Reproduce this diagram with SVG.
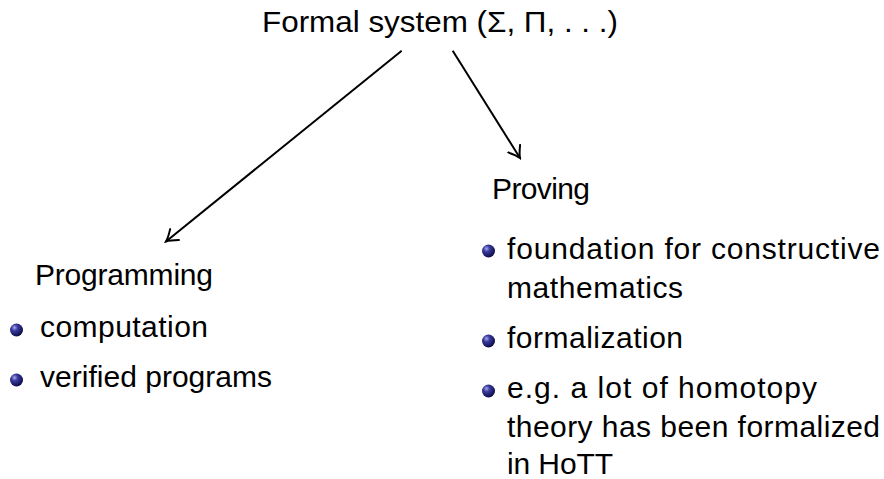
<svg xmlns="http://www.w3.org/2000/svg" width="884" height="479" viewBox="0 0 884 479">
<style>
text{font-family:"Liberation Sans",Arial,sans-serif;font-size:30px;fill:#000}
.ln{stroke:#000;stroke-width:2;fill:none}
</style>
<defs>
<radialGradient id="ball" cx="0.35" cy="0.32" r="0.7">
<stop offset="0" stop-color="#a9a9e6"/>
<stop offset="0.35" stop-color="#3a3aa0"/>
<stop offset="1" stop-color="#0c0c45"/>
</radialGradient>
<marker id="arr" markerUnits="userSpaceOnUse" viewBox="-12 -8 14 16" refX="0" refY="0" markerWidth="14" markerHeight="16" orient="auto">
<path d="M-11,-7 Q-4,-1.5 0,0 Q-4,1.5 -11,7" stroke="#000" stroke-width="2" fill="none" stroke-linecap="round"/>
</marker>
</defs>
<g id="title"><text x="262" y="32" textLength="356" lengthAdjust="spacingAndGlyphs">Formal system (Σ, Π, . . .)</text></g>
<g id="connectors">
<line class="ln" x1="401.7" y1="50.7" x2="166" y2="241.5" marker-end="url(#arr)"/>
<line class="ln" x1="452.7" y1="50.7" x2="520" y2="158" marker-end="url(#arr)"/>
</g>
<g id="programming">
<text x="35" y="285" textLength="178">Programming</text>
<circle cx="16.5" cy="330" r="6.5" fill="url(#ball)"/>
<text x="40" y="337" textLength="168">computation</text>
<circle cx="16.5" cy="380" r="6.5" fill="url(#ball)"/>
<text x="40" y="387" textLength="232">verified programs</text>
</g>
<g id="proving">
<text x="492" y="199" textLength="98">Proving</text>
<circle cx="488.5" cy="251" r="6.5" fill="url(#ball)"/>
<text x="507" y="259" textLength="373">foundation for constructive</text>
<text x="507" y="298" textLength="176">mathematics</text>
<circle cx="488.5" cy="341" r="6.5" fill="url(#ball)"/>
<text x="507" y="348" textLength="176">formalization</text>
<circle cx="488.5" cy="391" r="6.5" fill="url(#ball)"/>
<text x="507" y="398" textLength="310">e.g. a lot of homotopy</text>
<text x="507" y="437" textLength="373">theory has been formalized</text>
<text x="507" y="474" textLength="106">in HoTT</text>
</g>
</svg>
